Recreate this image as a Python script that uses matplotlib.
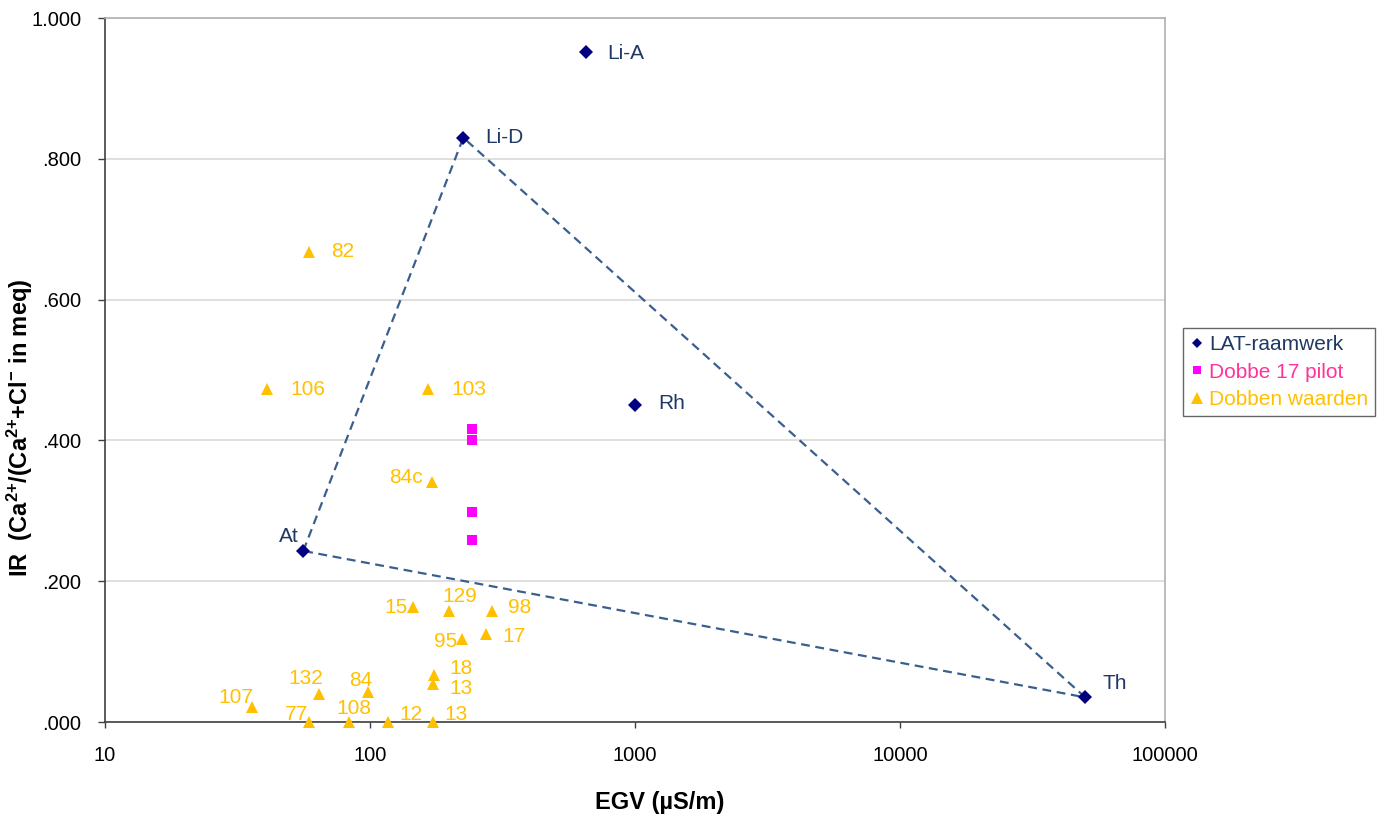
import matplotlib.pyplot as plt
from matplotlib.lines import Line2D

plt.rcParams['font.family'] = ['Liberation Sans', 'DejaVu Sans']
plt.rcParams['mathtext.default'] = 'regular'

# LAT-raamwerk reference points
lat_names = ['Li-A', 'Li-D', 'Rh', 'At', 'Th']
lat_egv = [652, 225, 1000, 56, 50000]
lat_ir = [0.951, 0.830, 0.450, 0.243, 0.035]
triangle_order = ['At', 'Li-D', 'Th', 'At']

# Dobbe 17 pilot
pilot_egv = [243, 243, 243, 243]
pilot_ir = [0.416, 0.400, 0.298, 0.258]

# Dobben waarden
dob_names = ['82', '106', '103', '84c', '15', '129', '98', '95', '17',
             '18', '13', '107', '132', '84', '77', '108', '12', '13']
dob_egv = [59, 41, 166, 172, 145, 199, 288, 223, 274,
           175, 173, 36, 64, 98, 59, 83, 117, 173]
dob_ir = [0.668, 0.473, 0.473, 0.341, 0.163, 0.157, 0.158, 0.118, 0.125,
          0.067, 0.054, 0.021, 0.040, 0.042, 0.0, 0.0, 0.0, 0.0]

# label placement (pixel offsets, alignment)
lat_off = [(21, -1, 'left'), (22, 0, 'left'), (23, 2, 'left'),
           (-5, 14, 'right'), (17, 14, 'left')]
dob_off = [(22, 0, 'left'), (23, 0, 'left'), (23, 0, 'left'), (-10, 4, 'right'),
           (-5, 0, 'right'), (11, 15, 'center'), (16, 3, 'left'), (-5, -3, 'right'),
           (16, -3, 'left'), (15, 6, 'left'), (16, -5, 'left'), (1, 10, 'right'),
           (-13, 15, 'center'), (-7, 12, 'center'), (-1, 8, 'right'),
           (5, 13, 'center'), (11, 8, 'left'), (11, 8, 'left')]

navy = '#000080'
navy_txt = '#1F3864'
pink = '#FF00FF'
gold = '#FFC000'
dash_col = '#3A5F8F'

fig = plt.figure(figsize=(13.8, 8.15), dpi=100)
ax = fig.add_axes([105 / 1380, 1 - 722 / 815, 1060 / 1380, 704 / 815])

tri_x = [lat_egv[lat_names.index(n)] for n in triangle_order]
tri_y = [lat_ir[lat_names.index(n)] for n in triangle_order]
ax.plot(tri_x, tri_y, color=dash_col, lw=1.6, dashes=(4, 2.5), zorder=2)

ax.plot(lat_egv, lat_ir, 'D', color=navy, ms=6.7, mew=0, ls='none', zorder=4)
ax.plot(pilot_egv, pilot_ir, 's', color=pink, ms=6.7, mew=0, ls='none', zorder=4)
ax.plot(dob_egv, dob_ir, '^', color=gold, ms=8.5, mew=0, ls='none', zorder=4,
        clip_on=False)

for n, x, y, (dx, dy, ha) in zip(lat_names, lat_egv, lat_ir, lat_off):
    ax.annotate(n, (x, y), xytext=(dx, dy), textcoords='offset pixels',
                ha=ha, va='center', fontsize=15, color=navy_txt)
for n, x, y, (dx, dy, ha) in zip(dob_names, dob_egv, dob_ir, dob_off):
    ax.annotate(n, (x, y), xytext=(dx, dy), textcoords='offset pixels',
                ha=ha, va='center', fontsize=15, color=gold)

ax.set_xscale('log')
ax.set_xlim(10, 100000)
ax.set_ylim(0, 1.0)
ax.set_xticks([10, 100, 1000, 10000, 100000])
ax.set_xticklabels(['10', '100', '1000', '10000', '100000'])
ax.minorticks_off()
yt = [0, 0.2, 0.4, 0.6, 0.8, 1.0]
ax.set_yticks(yt)
ax.set_yticklabels(['.000', '.200', '.400', '.600', '.800', '1.000'])
ax.tick_params(axis='x', length=4.3, width=1, pad=13, labelsize=14.5, color='#404040')
ax.tick_params(axis='y', length=5, width=1, pad=12, labelsize=14.5, color='#404040')

ax.grid(axis='y', color='#D9D9D9', lw=1.2)
ax.set_axisbelow(True)
for s in ['left', 'bottom']:
    ax.spines[s].set_color('#404040')
    ax.spines[s].set_linewidth(1.2)
for s in ['top', 'right']:
    ax.spines[s].set_color('#B0B0B0')
    ax.spines[s].set_linewidth(1.2)

ax.set_xlabel('EGV (µS/m)', fontsize=17, fontweight='bold')
ax.xaxis.label.set_va('center')
ax.xaxis.set_label_coords(555 / 1060, -80 / 704)
ax.set_ylabel('IR  (Ca$^{2{+}}$/(Ca$^{2{+}}$+Cl$^{{-}}$ in meq)',
              fontsize=17, fontweight='bold')
ax.yaxis.label.set_va('center')
ax.yaxis.set_label_coords(-85 / 1060, (722 - 428) / 704)

handles = [Line2D([], [], marker='D', color=navy, ls='none', ms=5.5, mew=0),
           Line2D([], [], marker='s', color=pink, ls='none', ms=6, mew=0),
           Line2D([], [], marker='^', color=gold, ls='none', ms=8, mew=0)]
leg = fig.legend(handles, ['LAT-raamwerk', 'Dobbe 17 pilot', 'Dobben waarden'],
                 loc='upper left', bbox_to_anchor=(1183 / 1380, 1 - 328 / 815),
                 borderaxespad=0, fontsize=15, frameon=True, fancybox=False,
                 handlelength=0.6, handletextpad=0.3, labelspacing=0.4,
                 borderpad=0.35)
leg.get_frame().set_edgecolor('#404040')
leg.get_frame().set_linewidth(1)
for t, c in zip(leg.get_texts(), [navy_txt, '#FF3399', gold]):
    t.set_color(c)

fig.savefig('out.png', dpi=100)
